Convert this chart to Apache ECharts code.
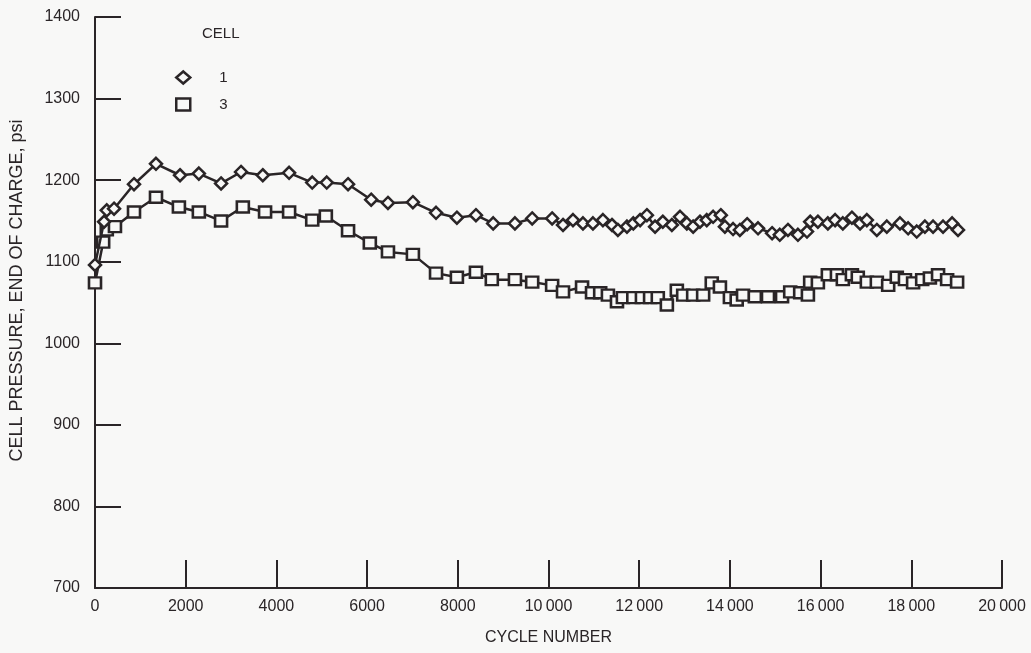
<!DOCTYPE html>
<html>
<head>
<meta charset="utf-8">
<title>Cell pressure vs cycle number</title>
<script src="https://cdn.jsdelivr.net/npm/echarts@6/dist/echarts.min.js"></script>
<style>
  html, body { margin: 0; padding: 0; background: #f8f8f7; }
  #chart { width: 1031px; height: 653px; }
</style>
</head>
<body>
<div id="chart"></div>
<script>
// End-of-charge cell pressure (psi) against cycle number, two cells.
const cell1Cycles = [0, 200, 260, 420, 860, 1345, 1875, 2290, 2780, 3220, 3700, 4280, 4790, 5110, 5580,
  6090, 6460, 7010, 7520, 7980, 8400, 8780, 9260, 9640, 10080, 10320, 10540, 10760, 10980, 11200,
  11400, 11530, 11730, 11870, 12020, 12170, 12350, 12520, 12720, 12900, 13050, 13190, 13340, 13490,
  13630, 13800, 13890, 14070, 14220, 14380, 14620, 14930, 15100, 15280, 15500, 15700, 15770, 15940,
  16160, 16320, 16490, 16690, 16870, 17020, 17240, 17460, 17750, 17930, 18120, 18300, 18480, 18700,
  18900, 19030];
const cell1Pressure = [1096, 1149, 1163, 1165, 1195, 1220, 1206, 1208, 1196, 1210, 1206, 1209, 1197, 1197, 1195,
  1176, 1172, 1173, 1160, 1154, 1157, 1147, 1147, 1153, 1153, 1145, 1151, 1147, 1147, 1151,
  1145, 1139, 1143, 1147, 1151, 1157, 1143, 1149, 1145, 1155, 1147, 1143, 1149, 1151,
  1155, 1157, 1143, 1140, 1139, 1146, 1141, 1135, 1133, 1139, 1133, 1137, 1149, 1149,
  1147, 1151, 1147, 1154, 1147, 1151, 1139, 1143, 1147, 1141, 1137, 1143, 1143, 1143,
  1147, 1139];

const cell3Cycles = [0, 180, 260, 440, 860, 1345, 1850, 2290, 2780, 3260, 3750, 4280, 4790, 5090, 5580,
  6060, 6460, 7010, 7520, 7980, 8400, 8750, 9260, 9640, 10080, 10320, 10740, 10960, 11140, 11310,
  11510, 11640, 11870, 12060, 12240, 12410, 12610, 12830, 12970, 13190, 13410, 13600, 13780, 14000,
  14150, 14290, 14550, 14840, 15150, 15330, 15550, 15720, 15770, 15940, 16160, 16360, 16490, 16690,
  16820, 17020, 17240, 17490, 17680, 17860, 18040, 18240, 18410, 18590, 18790, 19010];
const cell3Pressure = [1074, 1124, 1139, 1143, 1161, 1179, 1167, 1161, 1150, 1167, 1161, 1161, 1151, 1156, 1138,
  1123, 1112, 1109, 1086, 1081, 1087, 1078, 1078, 1075, 1071, 1063, 1069, 1062, 1062, 1059,
  1051, 1056, 1056, 1056, 1056, 1056, 1047, 1065, 1059, 1059, 1059, 1074, 1069, 1056,
  1053, 1059, 1057, 1057, 1057, 1063, 1062, 1059, 1075, 1074, 1084, 1084, 1078, 1084,
  1081, 1075, 1075, 1071, 1081, 1078, 1074, 1078, 1080, 1084, 1078, 1075];

const cellNames = ['1', '3'];
const legendTitle = 'CELL';
const xName = 'CYCLE NUMBER';
const yName = 'CELL PRESSURE, END OF CHARGE, psi';

const ink = '#2a2527';
const paper = '#f8f8f7';
const labelFont = '"Liberation Sans", Arial, sans-serif';

function pairs(xs, ys) { return xs.map((x, i) => [x, ys[i]]); }

// 10000 and above are written with a thin space as thousands separator
function cycleLabel(v) {
  if (v < 10000) return String(v);
  const s = String(v);
  return s.slice(0, s.length - 3) + '\u2009' + s.slice(-3);
}

const chart = echarts.init(document.getElementById('chart'), null, { renderer: 'canvas' });

chart.setOption({
  backgroundColor: paper,
  animation: false,
  grid: { left: 95, right: 29, top: 17, bottom: 65, containLabel: false },
  title: {
    text: legendTitle,
    left: 202, top: 26,
    padding: 0,
    textStyle: { fontFamily: labelFont, fontSize: 15, fontWeight: 'normal', color: ink }
  },
  legend: {
    orient: 'vertical',
    left: 175, top: 70,
    padding: 0,
    itemWidth: 14, itemHeight: 12,
    itemGap: 12,
    textStyle: { fontFamily: labelFont, fontSize: 15, color: ink, padding: [0, 0, 0, 24] },
    data: [
      { name: cellNames[0], icon: 'diamond', itemStyle: { color: paper, borderColor: ink, borderWidth: 2.5 } },
      { name: cellNames[1], icon: 'rect', itemStyle: { color: paper, borderColor: ink, borderWidth: 2.5 } }
    ]
  },
  xAxis: {
    type: 'value',
    min: 0, max: 20000, interval: 2000,
    name: xName,
    nameLocation: 'middle',
    nameGap: 42,
    nameTextStyle: { fontFamily: labelFont, fontSize: 16, color: ink },
    axisLine: { show: true, lineStyle: { color: ink, width: 2 } },
    axisTick: { show: true, inside: true, length: 28, lineStyle: { color: ink, width: 2 } },
    axisLabel: { margin: 11, fontFamily: labelFont, fontSize: 16, color: ink, formatter: cycleLabel },
    splitLine: { show: false }
  },
  yAxis: {
    type: 'value',
    min: 700, max: 1400, interval: 100,
    name: yName,
    nameLocation: 'middle',
    nameGap: 69,
    nameTextStyle: { fontFamily: labelFont, fontSize: 18, color: ink, padding: [0, 0, 0, 24] },
    axisLine: { show: true, lineStyle: { color: ink, width: 2 } },
    axisTick: { show: true, inside: true, length: 26, lineStyle: { color: ink, width: 2 } },
    axisLabel: { margin: 15, fontFamily: labelFont, fontSize: 16, color: ink, padding: [6, 0, 0, 0], formatter: v => String(v) },
    splitLine: { show: false }
  },
  series: [
    {
      name: cellNames[0],
      type: 'line',
      data: pairs(cell1Cycles, cell1Pressure),
      symbol: 'diamond',
      symbolSize: 12,
      showAllSymbol: true,
      lineStyle: { color: ink, width: 2.5 },
      itemStyle: { color: paper, borderColor: ink, borderWidth: 2.5 },
      z: 3
    },
    {
      name: cellNames[1],
      type: 'line',
      data: pairs(cell3Cycles, cell3Pressure),
      symbol: 'rect',
      symbolSize: [12, 11],
      showAllSymbol: true,
      lineStyle: { color: ink, width: 2.5 },
      itemStyle: { color: paper, borderColor: ink, borderWidth: 2.5 },
      z: 2
    }
  ]
});
</script>
</body>
</html>
